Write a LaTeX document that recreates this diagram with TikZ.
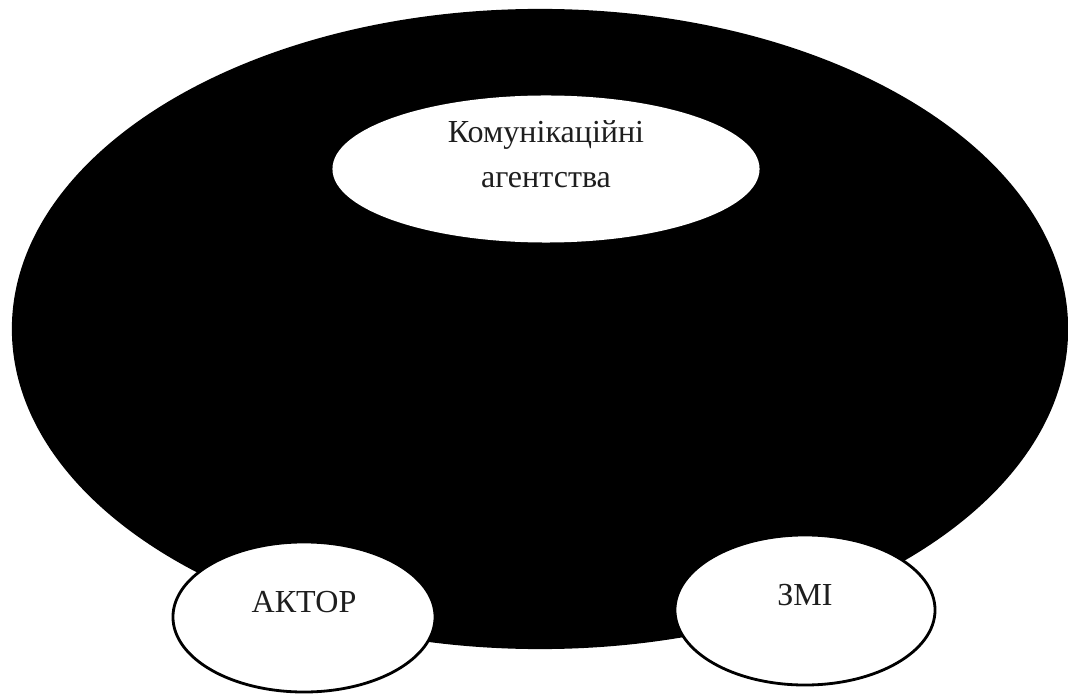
\documentclass[tikz,border=0pt]{standalone}
\usepackage{fontspec}
\setmainfont{Liberation Serif}
\usetikzlibrary{shapes.geometric, positioning}
\definecolor{fieldblack}{RGB}{0, 0, 0}
\definecolor{labelgray}{RGB}{30, 30, 30}

\tikzset{
    bubble/.style={ellipse, fill=white, draw=black, line width=2pt, inner sep=0pt,
        align=center, text=labelgray, font=\fontsize{22.8}{32}\selectfont, text depth=0.75cm},
}

\begin{document}
\begin{tikzpicture}[x=0.025cm, y=-0.025cm]
    \useasboundingbox (0,0) rectangle (1068,695);

    % Field: big black ellipse
    \node[ellipse, fill=fieldblack, draw=none, minimum width=26.4cm, minimum height=16cm] (field) at (540,329) {};

    % Top: communication agencies
    \node[bubble, draw=none, minimum width=10.675cm, minimum height=3.675cm] (agency) at (546,169) {
        Комунікаційні\\агентства
    };

    % Bottom left: actor
    \node[bubble, minimum width=6.55cm, minimum height=3.75cm] (actor) at (304,617) {АКТОР};

    % Bottom right: media
    \node[bubble, minimum width=6.5cm, minimum height=3.75cm] (media) at (805,610) {ЗМІ};
\end{tikzpicture}
\end{document}
